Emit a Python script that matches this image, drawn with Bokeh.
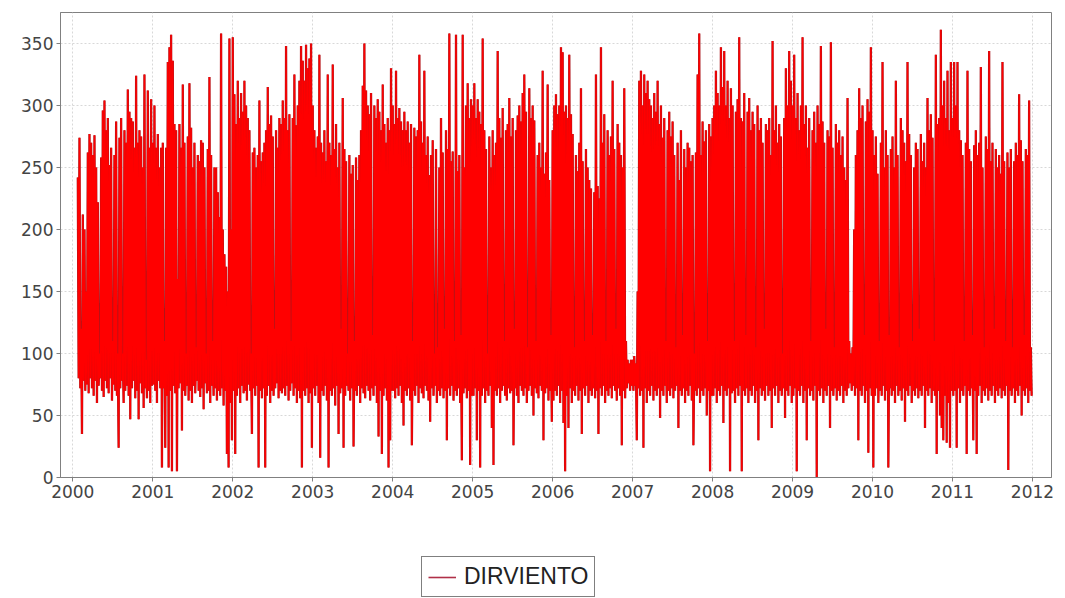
from bokeh.plotting import figure
from bokeh.layouts import column
from bokeh.models import FixedTicker, Legend, LegendItem, ColumnDataSource
from bokeh.embed import file_html
from bokeh.resources import INLINE

# ---------------- data ----------------
SERIES_NAME = "DIRVIENTO"
YEAR_TICKS = list(range(2000, 2013))
VALUE_TICKS = [0, 50, 100, 150, 200, 250, 300, 350]
SLOTS_PER_YEAR = 48          # sampling slots per year (upper / lower excursion pairs)
FIRST_SLOT_2000 = 3          # record starts in early February 2000

HI_2000 = [242, 274, 120, 212, 200, 150, 262, 277, 270, 260, 276, 250, 222, 100, 258, 296, 304, 280, 290, 252,
           266, 110, 260, 287, 100, 274, 290, 100, 280, 270, 313, 295, 290, 287, 266, 324, 270, 280, 275, 250,
           325, 95, 312, 266, 305]
LO_2000 = [80, 72, 35, 78, 70, 75, 68, 80, 72, 66, 78, 60, 74, 80, 70, 65, 78, 72, 68, 80,
           62, 75, 70, 66, 24, 72, 78, 60, 70, 74, 66, 47, 72, 78, 64, 70, 47, 76, 68, 56,
           72, 64, 70, 60, 74]

HI_2001 = [270, 300, 266, 277, 250, 266, 270, 110, 266, 335, 347, 357, 336, 285, 280, 160, 285, 266, 317, 270,
           100, 275, 318, 282, 250, 270, 105, 260, 255, 272, 270, 250, 100, 265, 323, 260, 110, 250, 250, 230,
           210, 358, 200, 180, 170, 150, 354, 200]
LO_2001 = [75, 70, 60, 78, 72, 8, 72, 24, 66, 8, 70, 5, 74, 68, 5, 72, 76, 38, 70, 66,
           74, 62, 70, 60, 74, 68, 78, 70, 65, 72, 55, 76, 68, 70, 60, 74, 66, 72, 62, 70,
           66, 72, 58, 70, 19, 8, 60, 30]

HI_2002 = [355, 309, 285, 320, 290, 310, 295, 320, 300, 290, 280, 100, 262, 266, 250, 260, 304, 255, 262, 270,
           280, 315, 285, 292, 275, 120, 280, 266, 290, 285, 304, 290, 348, 280, 293, 110, 290, 325, 284, 300,
           320, 348, 336, 320, 349, 330, 338, 350]
LO_2002 = [70, 19, 66, 72, 60, 74, 68, 70, 62, 75, 70, 35, 72, 66, 74, 8, 70, 64, 72, 8,
           66, 74, 60, 70, 66, 72, 76, 64, 70, 68, 72, 66, 74, 62, 70, 76, 66, 72, 60, 70,
           64, 8, 70, 66, 72, 60, 68, 24]

HI_2003 = [300, 280, 266, 275, 341, 270, 262, 280, 255, 325, 270, 260, 333, 265, 285, 250, 270, 120, 306, 265,
           255, 100, 260, 245, 252, 110, 258, 240, 260, 280, 316, 350, 312, 300, 293, 310, 115, 300, 290, 305,
           295, 280, 317, 285, 270, 290, 280, 330]
LO_2003 = [72, 66, 74, 60, 16, 70, 66, 74, 62, 8, 70, 66, 72, 58, 74, 35, 68, 72, 24, 66,
           74, 70, 62, 72, 25, 70, 66, 74, 60, 72, 68, 64, 74, 70, 62, 72, 66, 74, 60, 33,
           70, 19, 66, 72, 62, 8, 30, 70]

HI_2004 = [300, 285, 328, 290, 298, 287, 280, 295, 280, 287, 270, 285, 110, 282, 275, 280, 341, 287, 270, 328,
           260, 275, 244, 260, 272, 100, 265, 105, 250, 290, 262, 120, 280, 265, 358, 255, 263, 110, 357, 247,
           260, 115, 357, 250, 300, 318, 290, 305]
LO_2004 = [70, 64, 72, 66, 74, 60, 42, 70, 66, 72, 62, 26, 70, 66, 74, 60, 72, 68, 64, 74,
           70, 62, 45, 72, 66, 74, 60, 70, 66, 72, 64, 70, 30, 72, 66, 74, 62, 70, 66, 72,
           60, 14, 68, 72, 64, 70, 10, 66]

HI_2005 = [300, 318, 290, 305, 295, 285, 354, 280, 265, 100, 275, 250, 280, 260, 270, 344, 290, 274, 298, 110,
           280, 285, 306, 275, 290, 120, 280, 292, 300, 287, 310, 325, 295, 105, 314, 290, 300, 288, 110, 260,
           270, 250, 328, 245, 262, 317, 240, 115]
LO_2005 = [66, 72, 30, 70, 8, 66, 72, 60, 70, 66, 74, 40, 10, 70, 66, 72, 60, 70, 74, 66,
           62, 72, 68, 70, 26, 72, 66, 60, 74, 70, 66, 72, 60, 70, 74, 66, 50, 72, 68, 64,
           74, 70, 30, 68, 72, 62, 70, 45]

HI_2006 = [280, 300, 309, 293, 300, 347, 343, 295, 300, 290, 341, 293, 277, 105, 260, 247, 270, 314, 255, 110,
           265, 250, 240, 233, 115, 230, 325, 235, 225, 347, 270, 293, 110, 280, 260, 275, 320, 265, 120, 285,
           270, 260, 250, 314, 110, 95, 92, 95]
LO_2006 = [62, 70, 66, 74, 60, 70, 44, 5, 66, 40, 72, 60, 70, 66, 74, 62, 70, 35, 72, 66,
           74, 60, 70, 66, 72, 64, 70, 35, 72, 66, 74, 60, 70, 66, 72, 64, 74, 70, 62, 72,
           66, 26, 70, 64, 72, 76, 70, 74]

HI_2007 = [95, 98, 92, 150, 320, 328, 300, 325, 310, 320, 305, 300, 290, 310, 295, 320, 285, 300, 274, 290,
           110, 280, 295, 275, 287, 260, 105, 270, 240, 280, 115, 265, 250, 270, 266, 255, 260, 100, 262, 325,
           358, 260, 287, 271, 280, 110, 285, 275]
LO_2007 = [70, 74, 30, 72, 66, 70, 24, 72, 60, 70, 66, 74, 62, 70, 66, 72, 48, 70, 66, 74,
           60, 70, 66, 72, 64, 70, 74, 40, 70, 66, 72, 60, 70, 66, 74, 62, 26, 70, 66, 72,
           60, 70, 66, 72, 50, 70, 5, 66]

HI_2008 = [290, 300, 328, 310, 300, 347, 315, 344, 300, 320, 290, 314, 300, 110, 295, 305, 355, 290, 287, 310,
           115, 295, 306, 280, 295, 285, 105, 300, 280, 290, 270, 120, 285, 280, 290, 260, 352, 280, 300, 270,
           285, 275, 100, 290, 330, 300, 344, 320]
LO_2008 = [66, 72, 60, 70, 66, 74, 44, 70, 66, 72, 5, 68, 70, 60, 72, 66, 74, 5, 70, 66,
           72, 60, 70, 66, 74, 60, 70, 30, 72, 66, 70, 62, 74, 66, 70, 40, 72, 66, 74, 60,
           70, 66, 72, 48, 70, 66, 74, 60]

HI_2009 = [300, 341, 290, 310, 280, 300, 355, 285, 300, 266, 290, 110, 280, 295, 270, 300, 285, 348, 287, 270,
           120, 280, 275, 351, 266, 105, 285, 270, 280, 260, 275, 250, 240, 306, 110, 100, 105, 200, 260, 280,
           314, 290, 300, 115, 287, 305, 295, 347]
LO_2009 = [66, 72, 5, 70, 66, 74, 60, 70, 30, 72, 66, 70, 62, 74, 0, 70, 66, 72, 60, 70,
           66, 74, 40, 70, 66, 72, 62, 70, 66, 74, 60, 70, 66, 72, 76, 70, 74, 66, 72, 30,
           70, 66, 74, 60, 70, 20, 72, 66]

HI_2010 = [280, 260, 275, 245, 110, 270, 335, 250, 280, 260, 115, 265, 275, 250, 320, 260, 105, 290, 280, 270,
           255, 335, 277, 260, 110, 250, 270, 265, 120, 277, 255, 270, 250, 306, 280, 293, 274, 110, 341, 285,
           290, 361, 300, 320, 290, 328, 280, 335]
LO_2010 = [8, 66, 72, 60, 70, 66, 74, 62, 70, 8, 72, 66, 70, 60, 74, 66, 70, 62, 72, 45,
           70, 66, 74, 60, 70, 66, 72, 64, 70, 66, 74, 40, 70, 66, 72, 60, 70, 66, 19, 70,
           50, 40, 30, 66, 28, 60, 24, 70]

HI_2011 = [290, 335, 300, 335, 280, 272, 260, 110, 270, 328, 265, 255, 115, 268, 280, 260, 270, 331, 250, 105,
           275, 265, 344, 255, 270, 120, 265, 250, 260, 245, 335, 255, 110, 262, 250, 265, 105, 255, 270, 260,
           309, 272, 255, 115, 265, 260, 304, 105]
LO_2011 = [66, 70, 24, 72, 60, 70, 66, 74, 19, 70, 66, 72, 30, 70, 19, 66, 74, 60, 70, 66,
           72, 62, 70, 66, 74, 60, 70, 66, 72, 64, 70, 66, 74, 6, 70, 66, 72, 60, 70, 66,
           74, 50, 70, 66, 72, 60, 70, 66]

HIGHS = {2000: HI_2000, 2001: HI_2001, 2002: HI_2002, 2003: HI_2003, 2004: HI_2004, 2005: HI_2005,
         2006: HI_2006, 2007: HI_2007, 2008: HI_2008, 2009: HI_2009, 2010: HI_2010, 2011: HI_2011}
LOWS = {2000: LO_2000, 2001: LO_2001, 2002: LO_2002, 2003: LO_2003, 2004: LO_2004, 2005: LO_2005,
        2006: LO_2006, 2007: LO_2007, 2008: LO_2008, 2009: LO_2009, 2010: LO_2010, 2011: LO_2011}

# ---------------- build the time series ----------------
t, v = [], []
for yr in sorted(HIGHS):
    first = FIRST_SLOT_2000 if yr == 2000 else 0
    for k, (hi, lo) in enumerate(zip(HIGHS[yr], LOWS[yr])):
        s = first + k
        t.append(yr + s / SLOTS_PER_YEAR)
        v.append(hi)
        t.append(yr + (s + 0.5) / SLOTS_PER_YEAR)
        v.append(lo)
source = ColumnDataSource(data=dict(t=t, v=v))

LINE_COLOR = "#ff0000"
EDGE_COLOR = "#a8161c"

# ---------------- main chart ----------------
p = figure(width=1065, height=507,
           x_range=(1999.846, 2012.238), y_range=(0, 375),
           min_border_left=60, min_border_right=14, min_border_top=12, min_border_bottom=30,
           output_backend="svg", toolbar_location=None)
p.background_fill_color = "white"
p.border_fill_color = "white"
p.outline_line_color = "#808080"
p.outline_line_width = 1

r_edge = p.line("t", "v", source=source, line_color=EDGE_COLOR, line_width=2.3)
r = p.line("t", "v", source=source, line_color=LINE_COLOR, line_width=1.4)

for ax in (p.xaxis[0], p.yaxis[0]):
    ax.axis_line_color = "#808080"
    ax.major_tick_line_color = "#808080"
    ax.minor_tick_line_color = None
    ax.major_tick_in = 0
    ax.major_tick_out = 4
    ax.major_label_text_font = "DejaVu Sans"
    ax.major_label_text_font_size = "17px"
    ax.major_label_text_color = "#444444"
    ax.major_label_standoff = 3

p.xaxis.ticker = FixedTicker(ticks=YEAR_TICKS)
p.yaxis.ticker = FixedTicker(ticks=VALUE_TICKS)

p.xgrid.grid_line_color = "#d8d8d8"
p.ygrid.grid_line_color = "#d8d8d8"
p.xgrid.grid_line_dash = "2 2"
p.ygrid.grid_line_dash = "2 2"

# ---------------- legend strip below the chart ----------------
lg = figure(width=1065, height=91, x_range=(0, 1), y_range=(0, 1),
            x_axis_location=None, y_axis_location=None,
            min_border_left=0, min_border_right=0, min_border_top=0, min_border_bottom=0,
            output_backend="svg", toolbar_location=None)
lg.grid.visible = False
lg.outline_line_color = None
lg.background_fill_color = "white"
lg.border_fill_color = "white"
# legend swatch renderer: its points lie outside the strip's ranges, so only the swatch shows
legend_src = ColumnDataSource(data=dict(t=[5, 6], v=[5, 5]))
lr = lg.line("t", "v", source=legend_src, line_color="#b03048", line_width=1.6)

legend = Legend(items=[LegendItem(label=SERIES_NAME, renderers=[lr])],
                location=(361, 1), margin=0, padding=6,
                glyph_width=28, glyph_height=20, label_standoff=8,
                label_text_font="Liberation Sans", label_text_font_size="23px",
                label_text_color="#222222",
                border_line_color="black", border_line_width=1,
                background_fill_color="white", background_fill_alpha=1.0)
lg.add_layout(legend)

layout = column(p, lg, spacing=0)
open("out.html", "w").write(file_html(layout, INLINE))
